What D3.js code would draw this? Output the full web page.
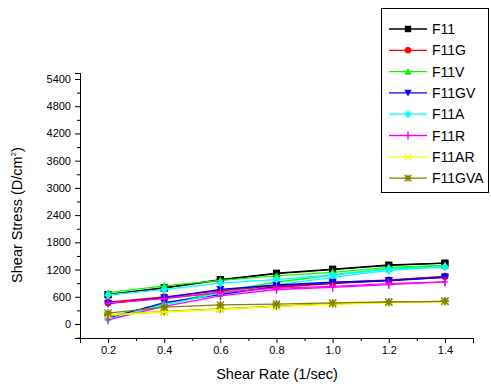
<!DOCTYPE html>
<html>
<head>
<meta charset="utf-8">
<script src="https://cdn.jsdelivr.net/npm/d3@7"></script>
<style>
  body { margin: 0; background: #fff; }
  text { font-family: Arial, "Liberation Sans", sans-serif; }
</style>
</head>
<body>
<div id="chart"></div>
<script>
var WIDTH = 491, HEIGHT = 385;

// data
var shearRate = [0.2, 0.4, 0.6, 0.8, 1.0, 1.2, 1.4];
var seriesNames = ["F11", "F11G", "F11V", "F11GV", "F11A", "F11R", "F11AR", "F11GVA"];
var seriesColors = ["#000000", "#ff0000", "#00ff00", "#0000ff", "#00ffff", "#ff00ff", "#ffff00", "#808000"];
var seriesSymbols = ["square", "circle", "triangle", "triangleDown", "diamond", "plus", "times", "asterisk"];

// ramp up curves
var f11Up    = [650, 800, 980, 1120, 1210, 1300, 1340];
var f11gUp   = [480, 600, 730, 840, 910, 970, 1050];
var f11vUp   = [690, 840, 960, 1060, 1140, 1250, 1290];
var f11gvUp  = [450, 580, 760, 860, 920, 960, 1030];
var f11aUp   = [640, 760, 900, 980, 1080, 1210, 1260];
var f11rUp   = [460, 560, 690, 790, 830, 890, 930];
var f11arUp  = [200, 270, 330, 390, 440, 470, 490];
var f11gvaUp = [240, 370, 420, 440, 465, 485, 500];

// ramp down curves
var f11Down    = [640, 790, 970, 1110, 1200, 1290, 1340];
var f11gDown   = [470, 570, 690, 810, 890, 960, 1050];
var f11vDown   = [160, 440, 720, 920, 1080, 1220, 1290];
var f11gvDown  = [130, 470, 650, 830, 900, 950, 1030];
var f11aDown   = [110, 420, 680, 860, 1030, 1180, 1260];
var f11rDown   = [90, 390, 620, 760, 810, 870, 930];
var f11arDown  = [190, 260, 320, 385, 435, 470, 490];
var f11gvaDown = [200, 275, 335, 395, 445, 480, 500];

var upCurves = [f11Up, f11gUp, f11vUp, f11gvUp, f11aUp, f11rUp, f11arUp, f11gvaUp];
var downCurves = [f11Down, f11gDown, f11vDown, f11gvDown, f11aDown, f11rDown, f11arDown, f11gvaDown];

var xTicks = [0.2, 0.4, 0.6, 0.8, 1.0, 1.2, 1.4];
var yTicks = [0, 600, 1200, 1800, 2400, 3000, 3600, 4200, 4800, 5400];

var svg = d3.select("#chart").append("svg")
  .attr("width", WIDTH)
  .attr("height", HEIGHT);

// scales
var x = d3.scaleLinear().domain([0.1, 1.5]).range([80, 473]);
var yBase = d3.scaleLinear().domain([0, 5400]).range([324, 79]);
var y = d3.scaleLinear().domain([yBase.invert(338), yBase.invert(73)]).range([338, 73]);

// axes
var xAxis = d3.axisBottom(x).tickValues(xTicks).tickFormat(d3.format(".1f")).tickSize(5).tickPadding(3);
var xMinor = d3.axisBottom(x).tickValues([0.1, 0.3, 0.5, 0.7, 0.9, 1.1, 1.3, 1.5]).tickFormat("").tickSize(3);
var yAxis = d3.axisLeft(y).tickValues(yTicks).tickFormat(d3.format("d")).tickSize(5).tickPadding(4);
var yMinor = d3.axisLeft(y).tickValues(d3.range(-300, 5700, 600)).tickFormat("").tickSize(3);

function styleAxis(g) {
  g.select(".domain").attr("stroke", "#000").attr("stroke-width", 1);
  g.selectAll(".tick line").attr("stroke", "#000");
  g.selectAll("text").style("font-size", "11px").attr("fill", "#000")
    .style("font-family", "Arial, 'Liberation Sans', sans-serif");
}

svg.append("g").attr("transform", "translate(0,338)").call(xMinor).call(styleAxis);
svg.append("g").attr("transform", "translate(0,338)").call(xAxis).call(styleAxis);
svg.append("g").attr("transform", "translate(80,0)").call(yMinor).call(styleAxis);
svg.append("g").attr("transform", "translate(80,0)").call(yAxis).call(styleAxis);

// axis titles
svg.append("text")
  .attr("x", 277).attr("y", 379)
  .style("text-anchor", "middle")
  .style("font-size", "14.5px")
  .text("Shear Rate (1/sec)");

var yt = svg.append("text")
  .attr("transform", "translate(22,215) rotate(-90)")
  .style("text-anchor", "middle")
  .style("font-size", "14.5px");
yt.append("tspan").text("Shear Stress (D/cm");
yt.append("tspan").attr("dy", -6).style("font-size", "8px").text("2");
yt.append("tspan").attr("dy", 6).text(")");

// marker drawing
function drawSymbol(g, kind, color, cx, cy, s) {
  s = s || 3.5;
  if (kind === "square") {
    g.append("rect").attr("x", cx - s).attr("y", cy - s).attr("width", 2 * s).attr("height", 2 * s).attr("fill", color);
  } else if (kind === "circle") {
    g.append("circle").attr("cx", cx).attr("cy", cy).attr("r", s).attr("fill", color);
  } else if (kind === "triangle") {
    g.append("path").attr("d", "M" + cx + "," + (cy - s - 0.5) + "L" + (cx + s + 0.5) + "," + (cy + s) + "L" + (cx - s - 0.5) + "," + (cy + s) + "Z").attr("fill", color);
  } else if (kind === "triangleDown") {
    g.append("path").attr("d", "M" + cx + "," + (cy + s + 0.5) + "L" + (cx + s + 0.5) + "," + (cy - s) + "L" + (cx - s - 0.5) + "," + (cy - s) + "Z").attr("fill", color);
  } else if (kind === "diamond") {
    g.append("path").attr("d", "M" + cx + "," + (cy - s - 1) + "L" + (cx + s) + "," + cy + "L" + cx + "," + (cy + s + 1) + "L" + (cx - s) + "," + cy + "Z").attr("fill", color);
  } else if (kind === "plus") {
    g.append("path").attr("d", "M" + cx + "," + (cy - s - 1) + "V" + (cy + s + 1) + "M" + (cx - s + 1) + "," + cy + "H" + (cx + s - 1))
      .attr("stroke", color).attr("stroke-width", 1.3).attr("fill", "none");
  } else if (kind === "times") {
    g.append("path").attr("d", "M" + (cx - s) + "," + (cy - s) + "L" + (cx + s) + "," + (cy + s) + "M" + (cx + s) + "," + (cy - s) + "L" + (cx - s) + "," + (cy + s))
      .attr("stroke", color).attr("stroke-width", 1.2).attr("fill", "none");
  } else if (kind === "asterisk") {
    g.append("path").attr("d", "M" + (cx - s) + "," + (cy - s) + "L" + (cx + s) + "," + (cy + s) + "M" + (cx + s) + "," + (cy - s) + "L" + (cx - s) + "," + (cy + s) +
        "M" + cx + "," + (cy - s - 0.5) + "V" + (cy + s + 0.5) + "M" + (cx - s - 0.5) + "," + cy + "H" + (cx + s + 0.5))
      .attr("stroke", color).attr("stroke-width", 1.4).attr("fill", "none");
  }
}

var line = d3.line()
  .x(function(d, i) { return x(shearRate[i]); })
  .y(function(d) { return y(d); });

// draw series (down curves first, then up curves)
var plot = svg.append("g");
[downCurves, upCurves].forEach(function(curves) {
  curves.forEach(function(vals, k) {
    plot.append("path")
      .attr("d", line(vals))
      .attr("fill", "none")
      .attr("stroke", seriesColors[k])
      .attr("stroke-width", 1.3);
    vals.forEach(function(v, i) {
      drawSymbol(plot, seriesSymbols[k], seriesColors[k], x(shearRate[i]), y(v));
    });
  });
});

// legend
var legend = svg.append("g");
legend.append("rect")
  .attr("x", 381.5).attr("y", 8.5)
  .attr("width", 107).attr("height", 184)
  .attr("fill", "#fff").attr("stroke", "#000").attr("stroke-width", 1);

seriesNames.forEach(function(name, k) {
  var ly = 29 + k * 21.3;
  legend.append("line")
    .attr("x1", 389).attr("x2", 427).attr("y1", ly).attr("y2", ly)
    .attr("stroke", seriesColors[k]).attr("stroke-width", 1.3);
  drawSymbol(legend, seriesSymbols[k], seriesColors[k], 408, ly, 3.2);
  legend.append("text")
    .attr("x", 432).attr("y", ly + 5)
    .style("font-size", "14px")
    .text(name);
});
</script>
</body>
</html>
